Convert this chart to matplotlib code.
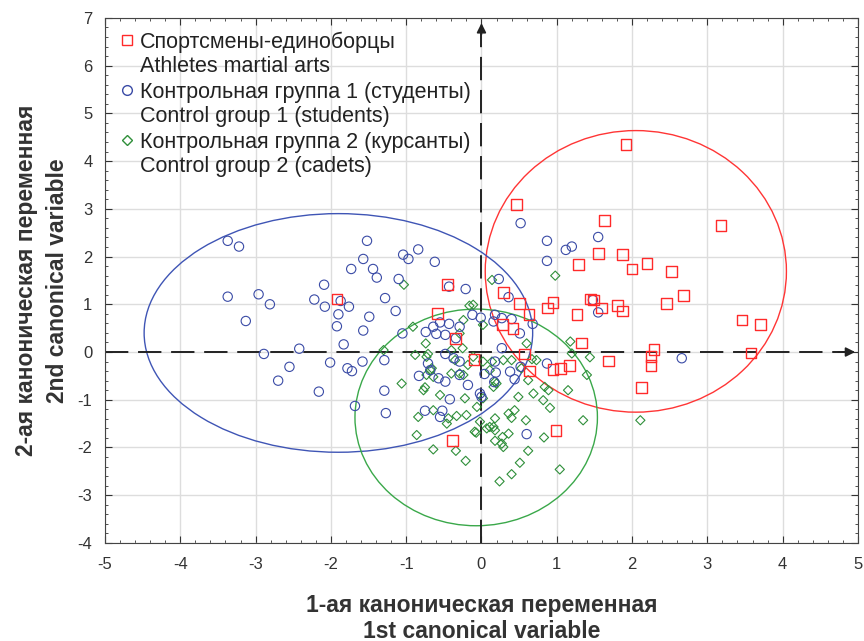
import matplotlib.pyplot as plt
from matplotlib.patches import Ellipse
from matplotlib.ticker import MultipleLocator

plt.rcParams['font.family'] = ['Liberation Sans', 'DejaVu Sans']
plt.rcParams['axes.unicode_minus'] = False

# --- datos (1a y 2a variable canonica) ---
rojo_x = [1.92, 0.47, 1.63, 3.18, 1.55, 1.87, 1.29, 2.20, 2.00, 2.52, 2.68, 2.46, 1.45, 1.49,
          1.59, 1.81, 1.87, 0.95, 0.88, 1.27, 3.46, 3.71, 0.29, 0.51, 0.63, 0.28, 0.42, 1.33,
          0.57, 0.64, 2.29, 2.25, 2.25, 3.58, 1.69, 0.95, 1.05, 1.17, 2.13, 0.99, -1.92, -0.45,
          -0.58, -0.34, -0.10, -0.38]
rojo_y = [4.35, 3.09, 2.75, 2.65, 2.06, 2.04, 1.83, 1.85, 1.74, 1.68, 1.18, 1.01, 1.11, 1.09,
          0.92, 0.97, 0.86, 1.03, 0.92, 0.78, 0.67, 0.57, 1.24, 1.01, 0.78, 0.57, 0.50, 0.19,
          -0.04, -0.40, 0.06, -0.10, -0.28, -0.02, -0.19, -0.37, -0.34, -0.29, -0.75, -1.64, 1.11, 1.41,
          0.80, 0.29, -0.15, -1.85]

azul_x = [-3.37, -3.22, -3.37, -2.96, -2.81, -3.13, -2.89, -2.42, -2.55, -2.70, -2.16,
          -2.09, -2.22, -2.08, -1.87, -1.76, -1.90, -1.92, -1.83, -2.01, -1.78, -1.72, -1.58,
          -1.52, -1.57, -1.73, -1.44, -1.39, -1.28, -1.49, -1.57, -1.14, -1.10, -1.04, -0.97,
          -0.84, -0.62, -1.05, -1.29, -1.29, -1.27, -1.68,
          -0.43, -0.21, 0.23, 0.36, 0.52,
          -0.74, -0.64, -0.60, -0.55, -0.48, -0.43, -0.29, -0.12, -0.01, 0.18, 0.27, 0.16, 0.40,
          0.51, 0.68, 0.27,
          -0.48, -0.37, -0.29, -0.71, -0.83, -0.48, 0.04, 0.19, 0.18, 0.38, 0.52, 0.44, -0.18,
          0.17, -0.42, -0.52, -0.55, -0.75,
          0.87, 1.12, 1.20, 1.55, 0.87, 1.48, 1.55, 2.66, 0.87, 0.60,
          -0.68, -0.57, -0.29, -0.02, 0.00, -0.34]
azul_y = [2.33, 2.21, 1.16, 1.21, 1.00, 0.65, -0.04, 0.07, -0.31, -0.60, -0.83,
          1.41, 1.10, 0.95, 1.07, 0.95, 0.79, 0.54, 0.16, -0.22, -0.34, -0.40, -0.20,
          2.33, 1.95, 1.74, 1.74, 1.56, 1.13, 0.74, 0.45, 0.86, 1.53, 2.04, 1.95,
          2.15, 1.89, 0.39, -0.17, -0.81, -1.28, -1.13,
          1.37, 1.32, 1.53, 1.15, 2.70,
          0.42, 0.53, 0.38, 0.62, 0.36, 0.59, 0.53, 0.78, 0.72, 0.78, 0.71, 0.64, 0.69,
          0.39, 0.59, 0.08,
          -0.04, -0.13, -0.20, -0.24, -0.50, -0.62, -0.46, -0.43, -0.20, -0.41, -0.31, -0.57, -0.69,
          -0.63, -0.99, -1.23, -1.36, -1.23,
          2.33, 2.14, 2.21, 2.41, 1.91, 1.09, 0.83, -0.13, -0.24, -1.72,
          -0.38, -0.55, -0.48, -0.87, -0.94, 0.29]

verde_x = [-1.03, -0.16, -0.11, -0.91, -0.24, 0.02, -0.74, -0.29, -1.30, -0.88, -0.71, -0.40,
           -0.25, -0.35, -0.18, -0.11, 0.14, 0.29, 0.40, 0.53, 0.60, 0.73, 1.18, 1.20, 1.44, 1.40,
           0.67, -0.68, -0.64, -1.06, -0.75, -0.40, -0.24, -0.55, -0.22, -0.06, 0.02, 0.20, 0.16,
           0.49, 0.69, 0.84, 0.89, 1.15, 0.91, 0.82, -0.84, -0.64, -0.46, -0.33, -0.20, -0.09,
           -0.07, -0.86, -0.64, -0.34, -0.21, 0.18, 0.36, 0.40, 0.59, 0.16, 0.28, 0.27, 0.29, 0.36,
           0.62, 0.51, 0.40, 0.24, 0.83, 1.04, 1.35, 2.11, 0.98, 0.14, 0.62, 0.11, 0.02, -0.73,
           -0.66, -0.73, -0.29, -0.77, 0.18, 0.44, -0.44, -0.02, 0.07, 0.11, 0.18, 0.18]
verde_y = [1.41, 0.97, 0.99, 0.53, 0.67, 0.57, 0.18, 0.39, 0.04, -0.06, -0.04, 0.04,
           0.08, -0.17, -0.27, -0.10, -0.20, -0.17, -0.17, -0.34, 0.18, -0.17, 0.22, -0.03, -0.11, -0.48,
           -0.15, -0.38, -0.52, -0.66, -0.74, -0.45, -0.48, -0.90, -0.97, -1.15, -0.97, -0.66, -0.73,
           -0.94, -0.87, -0.73, -0.80, -0.80, -1.17, -1.01, -1.36, -1.22, -1.50, -1.34, -1.32, -1.67,
           -1.69, -1.74, -2.04, -2.07, -2.28, -1.39, -1.29, -1.38, -1.43, -1.57, -1.78, -1.92, -1.99, -1.71,
           -2.07, -2.32, -2.56, -2.71, -1.79, -2.46, -1.43, -1.43, 1.60, 1.51, -0.59, -0.38, -0.20, -0.10,
           -0.34, -0.48, -0.45, -0.80, -0.62, -1.22, -1.39, -1.46, -1.60, -1.57, -1.64, -1.86]

etiquetas = ['Спортсмены-единоборцы\nAthletes martial arts',
             'Контрольная группа 1 (студенты)\nControl group 1 (students)',
             'Контрольная группа 2 (курсанты)\nControl group 2 (cadets)']

c_rojo, c_azul, c_verde = '#ff2a2a', '#3a4ba6', '#2f8f3a'

fig = plt.figure(figsize=(8.64, 6.41), dpi=100)
ax = fig.add_axes([0.1215, 0.153, 0.8715, 0.819])

ax.scatter(verde_x, verde_y, marker='D', s=22, facecolors='none', edgecolors=c_verde, linewidths=0.8, zorder=3)
ax.scatter(azul_x, azul_y, marker='o', s=45, facecolors='none', edgecolors=c_azul, linewidths=0.8, zorder=3)
ax.scatter(rojo_x, rojo_y, marker='s', s=60, facecolors='none', edgecolors=c_rojo, linewidths=1.0, zorder=4)

# elipses de confianza
ax.add_patch(Ellipse((2.05, 1.69), 4.0, 5.9, fill=False, edgecolor='#ff3535', lw=1.0, zorder=2))
ax.add_patch(Ellipse((-1.9, 0.4), 5.16, 5.0, fill=False, edgecolor='#3f55b5', lw=1.0, zorder=2))
ax.add_patch(Ellipse((-0.07, -1.37), 3.22, 4.54, fill=False, edgecolor='#3aa84a', lw=1.0, zorder=2))

# ejes punteados con flecha
ax.plot([-5, 4.85], [0, 0], color='#222222', lw=1.4, ls=(0, (12, 5)), zorder=2)
ax.plot([0, 0], [-4, 6.75], color='#222222', lw=1.4, ls=(0, (12, 5)), zorder=2)
ax.annotate('', xy=(5.0, 0), xytext=(4.7, 0),
            arrowprops=dict(arrowstyle='-|>', color='#222222', lw=1.2, mutation_scale=14))
ax.annotate('', xy=(0, 6.95), xytext=(0, 6.6),
            arrowprops=dict(arrowstyle='-|>', color='#222222', lw=1.2, mutation_scale=14))

ax.set_xlim(-5, 5)
ax.set_ylim(-4, 7)
ax.xaxis.set_major_locator(MultipleLocator(1))
ax.yaxis.set_major_locator(MultipleLocator(1))
ax.xaxis.set_minor_locator(MultipleLocator(0.2))
ax.yaxis.set_minor_locator(MultipleLocator(0.2))
ax.tick_params(which='both', direction='in', top=True, right=True, labelsize=12, colors='#333333')
ax.tick_params(which='major', length=5)
ax.tick_params(which='minor', length=2.5)
ax.tick_params(axis='x', which='major', pad=10)
ax.tick_params(axis='y', which='major', pad=9)
ax.grid(True, color='#dddddd', lw=1.0, zorder=0)
ax.set_axisbelow(True)
for sp in ax.spines.values():
    sp.set_color('#444444')

ax.set_xlabel('1-ая каноническая переменная\n1st canonical variable', fontsize=16.5,
              fontweight='bold', color='#333333', labelpad=16, linespacing=1.15)
ax.set_ylabel('2-ая каноническая переменная\n2nd canonical variable', fontsize=16.5,
              fontweight='bold', color='#333333', labelpad=6, linespacing=1.45)

# leyenda manual (marcador + dos lineas)
marcadores = [('s', c_rojo, 7.5), ('o', c_azul, 7), ('D', c_verde, 5)]
for i, (m, c, ms) in enumerate(marcadores):
    y = 0.958 - i * 0.0952
    ax.plot([0.029], [y], marker=m, ms=ms, mfc='none', mec=c, mew=1.0,
            transform=ax.transAxes, ls='none', zorder=5)
    ax.text(0.046, y + 0.016, etiquetas[i], transform=ax.transAxes, fontsize=15.5,
            va='top', color='#222222', linespacing=1.22)

plt.savefig('out.png', dpi=100)
